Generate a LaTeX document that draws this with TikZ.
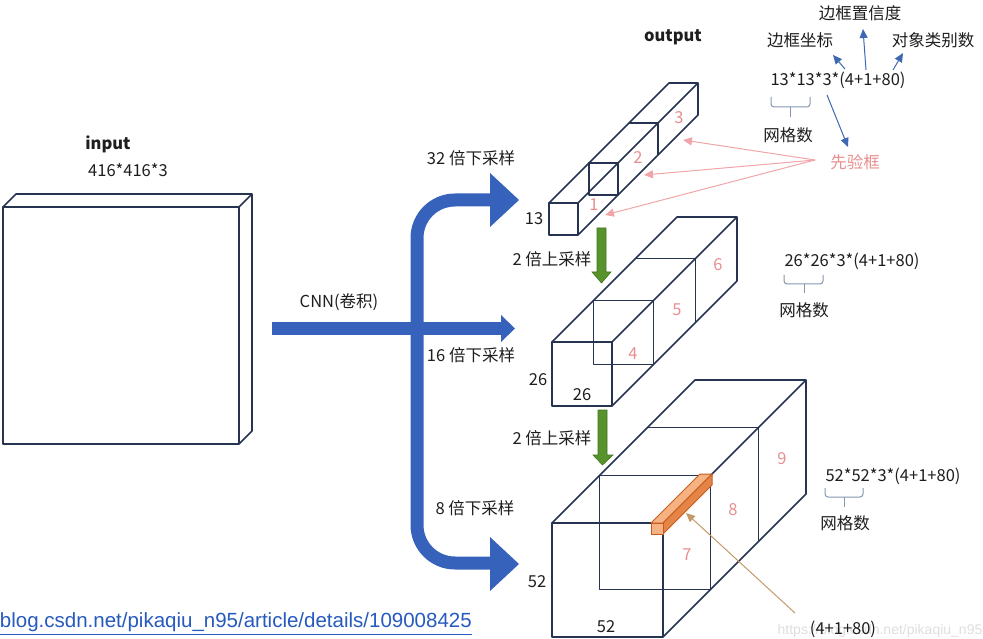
\documentclass[tikz,border=0pt]{standalone}
\usepackage{fontspec}
\setmainfont{Noto Sans CJK SC}
\newfontfamily\linkfont{Liberation Sans}
\usetikzlibrary{arrows.meta}
\definecolor{boxc}{RGB}{38,52,82}
\definecolor{bigblue}{RGB}{54,98,188}
\definecolor{gr}{RGB}{88,146,44}
\definecolor{grd}{RGB}{66,116,32}
\definecolor{pinkt}{RGB}{232,142,142}
\definecolor{pinkl}{RGB}{240,165,168}
\definecolor{smallblue}{RGB}{62,104,178}
\definecolor{bracec}{RGB}{130,150,175}
\definecolor{orf}{RGB}{246,178,130}
\definecolor{ord}{RGB}{228,132,70}
\definecolor{ors}{RGB}{196,92,30}
\definecolor{tanl}{RGB}{196,154,104}
\definecolor{linkc}{RGB}{38,90,190}
\definecolor{txt}{RGB}{30,30,30}
\definecolor{wm}{RGB}{222,222,222}
\newcommand{\splitbox}[5]{%
  \draw[boxline] (#1,#2) rectangle ++(#3,#4);
  \draw[boxline] (#1,#2) -- ++(#5,-#5) -- ++(#3,0) -- ++(0,#4) -- ++(-#5,#5);
  \draw[boxline] ({#1+#3},#2) -- ++(#5,-#5);
  \draw[boxline] ({#1+#5/3},{#2-#5/3}) rectangle ++(#3,#4);
  \draw[boxline] ({#1+2*#5/3},{#2-2*#5/3}) -- ++(#3,0) -- ++(0,#4);
}
\begin{document}
\begin{tikzpicture}[x=1pt,y=-1pt,
  boxline/.style={draw=boxc,line width=1.6pt,line join=round},
  lbl/.style={font=\fontsize{16.5}{18}\selectfont,text=txt,inner sep=0pt},
  bold/.style={font=\fontsize{16.5}{18}\selectfont\bfseries,text=txt,inner sep=0pt},
  num/.style={font=\fontsize{16.5}{18}\selectfont,text=pinkt,inner sep=0pt},
  pinkarrow/.style={draw=pinkl,line width=1pt,-{Triangle[length=9pt,width=8pt]}},
  bluearrow/.style={draw=smallblue,line width=1pt,-{Triangle[length=9pt,width=8pt]}},
  bracestyle/.style={draw=bracec,line width=1pt,rounded corners=3pt},
  bigarrow/.style={fill=bigblue},
  greenarrow/.style={fill=gr,draw=grd,line width=0.6pt}]
\useasboundingbox (0,0) rectangle (983,639);

% input box
\draw[boxline] (3,207) rectangle (239,444);
\draw[boxline] (3,207) -- (16,194) -- (252,194) -- (252,431) -- (239,444);
\draw[boxline] (239,207) -- (252,194);
\node[bold] (input) at (108,144) {input};
\node[lbl] (insz) at (128,170) {416*416*3};

% big blue arrows
\fill[bigarrow] (272,322) rectangle (503,335);
\fill[bigarrow] (501,315) -- (515,328.5) -- (501,342) -- cycle;
\draw[draw=bigblue,line width=13pt,rounded corners=38pt] (492,200) -- (417,200) -- (417,563) -- (492,563);
\fill[bigarrow] (490,173) -- (519,200) -- (490,227) -- cycle;
\fill[bigarrow] (490,537) -- (519,564) -- (490,591) -- cycle;
\node[lbl] (cnn) at (339,302) {CNN(卷积)};
\node[lbl] (d32) at (471,158) {32 倍下采样};
\node[lbl] (d16) at (471,355) {16 倍下采样};
\node[lbl] (d8) at (475,508) {8 倍下采样};

% output boxes
\splitbox{549}{203}{29}{32}{120}
\splitbox{552}{342}{60}{64}{125}
\splitbox{552}{523}{111}{114}{143}
\node[bold] (output) at (673,37) {output};

% green arrows
\filldraw[greenarrow] (597,228) -- (606,228) -- (606,272) -- (611,272) -- (601.5,283) -- (592,272) -- (597,272) -- cycle;
\filldraw[greenarrow] (598,410) -- (607,410) -- (607,455) -- (613,455) -- (602.5,465) -- (593,455) -- (598,455) -- cycle;
\node[lbl] (up1) at (552,259) {2 倍上采样};
\node[lbl] (up2) at (552,438) {2 倍上采样};

% size labels
\node[lbl] (s13) at (534,219) {13};
\node[lbl] (s26a) at (538,380) {26};
\node[lbl] (s26b) at (582,395) {26};
\node[lbl] (s52a) at (537,582) {52};
\node[lbl] (s52b) at (606,627) {52};

% pink numbers
\node[num] (n1) at (594,205) {1};
\node[num] (n2) at (638,158) {2};
\node[num] (n3) at (679,118) {3};
\node[num] (n4) at (633,354) {4};
\node[num] (n5) at (677,310) {5};
\node[num] (n6) at (718,265) {6};
\node[num] (n7) at (687,555) {7};
\node[num] (n8) at (733,510) {8};
\node[num] (n9) at (782,459) {9};

% orange bar
\filldraw[fill=orf,draw=ors,line width=1pt,line join=round] (651,523) -- (700,474) -- (712,474) -- (663,523) -- cycle;
\filldraw[fill=ord,draw=ors,line width=1pt,line join=round] (663,523) -- (712,474) -- (712,485) -- (663,534) -- cycle;
\filldraw[fill=orf,draw=ors,line width=1pt] (651,523) rectangle (663,534);

% anchor prior label + pink arrows
\node[font=\fontsize{16.5}{18}\selectfont,text=pinkt,inner sep=0pt] (prior) at (855,162) {先验框};
\coordinate (pr) at (815,160);
\coordinate (t3) at (683,140);
\coordinate (t2) at (644,175);
\coordinate (t1) at (605,215);
\draw[pinkarrow] (pr) -- (t3);
\draw[pinkarrow] (pr) -- (t2);
\draw[pinkarrow] (pr) -- (t1);

% top-right annotation
\node[lbl] (conf) at (860,13) {边框置信度};
\node[lbl] (coord) at (800,40) {边框坐标};
\node[lbl] (cls) at (933,40) {对象类别数};
\node[lbl] (f13) at (838,80) {13*13*3*(4+1+80)};
\node[lbl] (g13) at (788,135) {网格数};
\draw[bracestyle] (771,97) |- (790,107) -| (810,97);
\draw[draw=bracec,line width=1pt] (790,107) -- (790,117);
\coordinate (a1s) at (845,69);  \coordinate (a1e) at (833,55);
\coordinate (a2s) at (866,70);  \coordinate (a2e) at (863,29);
\coordinate (a3s) at (893,70);  \coordinate (a3e) at (903,53);
\coordinate (a4s) at (827,95);  \coordinate (a4e) at (848,147);
\draw[bluearrow] (a1s) -- (a1e);
\draw[bluearrow] (a2s) -- (a2e);
\draw[bluearrow] (a3s) -- (a3e);
\draw[bluearrow] (a4s) -- (a4e);

% 26 annotation
\node[lbl] (f26) at (852,261) {26*26*3*(4+1+80)};
\draw[bracestyle] (784,275) |- (804,284) -| (823,275);
\draw[draw=bracec,line width=1pt] (804,284) -- (804,293);
\node[lbl] (g26) at (804,310) {网格数};

% 52 annotation
\node[lbl] (f52) at (893,476) {52*52*3*(4+1+80)};
\draw[bracestyle] (825,488) |- (844,497) -| (863,488);
\draw[draw=bracec,line width=1pt] (844,497) -- (844,507);
\node[lbl] (g52) at (845,523) {网格数};

% watermark + cell label
\node[font=\linkfont\fontsize{14}{16}\selectfont,text=wm,inner sep=0pt] (wmk) at (880,631) {https://blog.csdn.net/pikaqiu\_n95};
\node[lbl] (cell) at (843,629) {(4+1+80)};
\coordinate (cs) at (795,613);
\coordinate (ce) at (686,513);
\draw[draw=tanl,line width=1pt,-{Triangle[length=9pt,width=8pt]}] (cs) -- (ce);

% link
\node[font=\linkfont\fontsize{20.5}{22}\selectfont,text=linkc,inner sep=0pt,anchor=east] (link) at (472,622) {blog.csdn.net/pikaqiu\_n95/article/details/109008425};
\draw[draw=linkc,line width=1.1pt] ([yshift=-3pt]link.south west) -- ([yshift=-3pt]link.south east);
\end{tikzpicture}
\end{document}
